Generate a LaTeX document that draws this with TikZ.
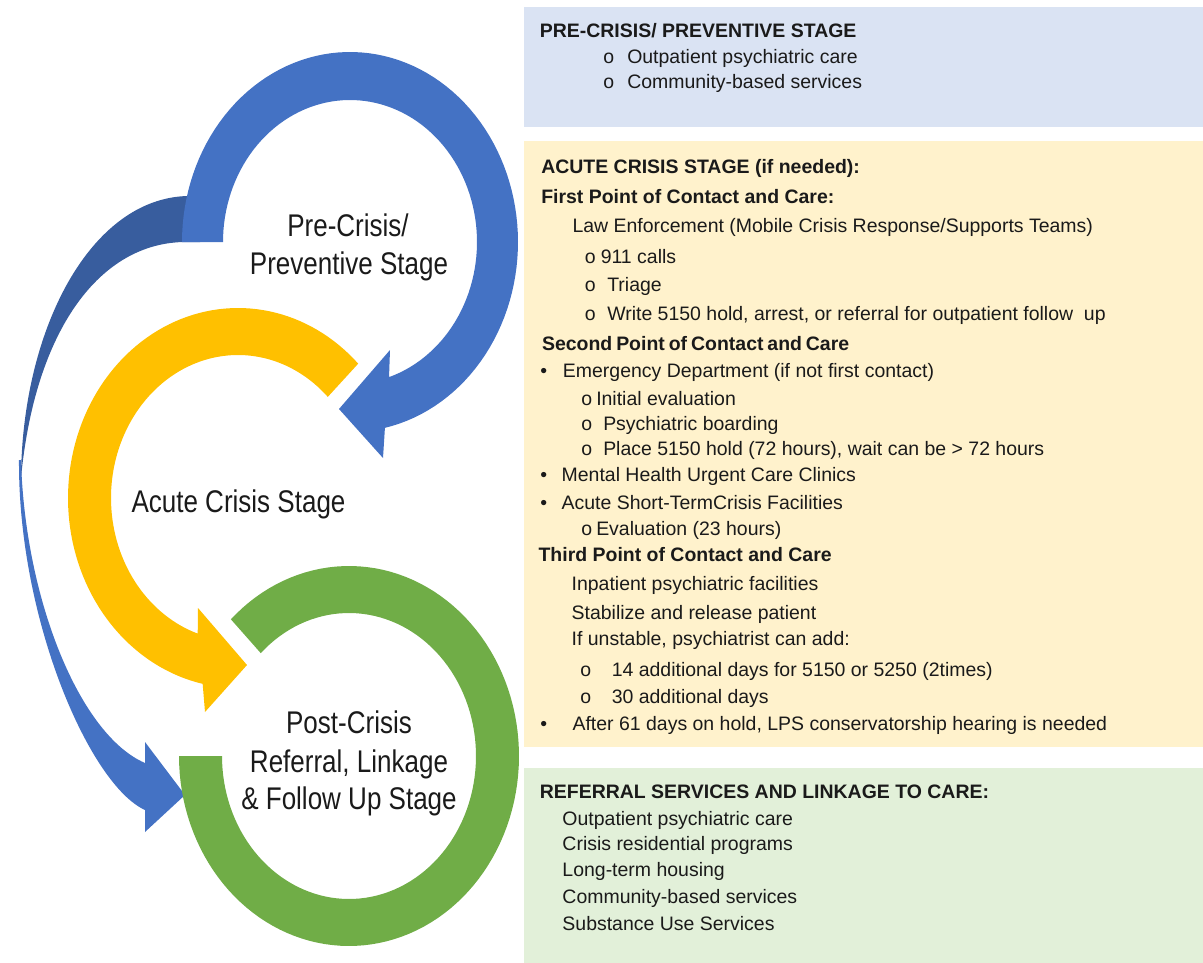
\documentclass[tikz,border=0pt]{standalone}
\usepackage{fontspec}
\setmainfont{Liberation Sans}
\newfontfamily\narrowfam[FakeStretch=0.83]{Liberation Sans}
\newlength\pxu
\setlength\pxu{0.75pt}
\newcommand\rtf{\fontsize{14.6pt}{17pt}\selectfont}
\newcommand\lblf{\narrowfam\fontsize{23.5pt}{28pt}\selectfont}
\newcommand\mk[2]{\makebox[#1\pxu][l]{#2}}
\definecolor{boxblue}{HTML}{DAE3F3}
\definecolor{boxyellow}{HTML}{FFF2CC}
\definecolor{boxgreen}{HTML}{E2F0D9}
\definecolor{ringblue}{HTML}{4472C4}
\definecolor{darkblue}{HTML}{385D9E}
\definecolor{ringyellow}{HTML}{FFC000}
\definecolor{ringgreen}{HTML}{70AD47}
\definecolor{ink}{HTML}{1A1A1A}
\begin{document}
\begin{tikzpicture}[x=0.75pt,y=-0.75pt,
  rtxt/.style={anchor=base west,inner sep=0pt,font=\rtf,text=ink},
  lbl/.style={anchor=base,inner sep=0pt,font=\lblf,text=ink}]
\useasboundingbox (0,0) rectangle (1203,963);
% info boxes
\fill[boxblue] (524,7) rectangle (1203,127);
\fill[boxyellow] (524,141) rectangle (1203,747);
\fill[boxgreen] (524,768) rectangle (1203,963);
% dark back part of the long arrow
\fill[darkblue] (188,196) .. controls (90,198) and (22,330) .. (21,478)
  .. controls (35,330) and (100,242) .. (186,242) -- (200,242) -- (200,196) -- cycle;
% front part of the long arrow
\fill[ringblue] (19,460) .. controls (18,620) and (90,785) .. (145,810)
  -- (145,832) -- (185,795) -- (145,742) -- (145,763)
  .. controls (80,735) and (25,600) .. (21,460) -- cycle;
% blue ring arrow
\fill[ringblue] plot[domain=180:438,samples=100] ({350+168*cos(\x)},{242+190*sin(\x)})
  -- (383,458) -- (339,409) -- (390,350)
  -- plot[domain=432.1:180,samples=100] ({350+127*cos(\x)},{242+142*sin(\x)}) -- cycle;
% yellow ring arrow
\fill[ringyellow] plot[domain=-45:-258,samples=100] ({238+170*cos(\x)},{498+190*sin(\x)})
  -- (205,712) -- (247,665) -- (198,608)
  -- plot[domain=-251.5:-45,samples=100] ({238+127*cos(\x)},{498+143*sin(\x)}) -- cycle;
% green ring
\fill[ringgreen] plot[domain=180:-134,samples=120] ({349+170*cos(\x)},{756+190*sin(\x)})
  -- plot[domain=-134:180,samples=120] ({349+127*cos(\x)},{756+143*sin(\x)}) -- cycle;
% stage labels
\node[lbl] (pre1) at (348,236) {Pre-Crisis/};
\node[lbl] (pre2) at (349,274) {Preventive Stage};
\node[lbl] (acute) at (238.5,512) {Acute Crisis Stage};
\node[lbl] (post1) at (349,733.5) {Post-Crisis};
\node[lbl] (post2) at (349,772) {Referral, Linkage};
\node[lbl] (post3) at (349,809) {\& Follow Up Stage};
% box 1
\node[rtxt] (a1) at (539.6,38) {\bfseries PRE-CRISIS/ PREVENTIVE STAGE};
\node[rtxt] (a2) at (603,63.5) {\mk{24}{o}Outpatient psychiatric care};
\node[rtxt] (a3) at (603,89) {\mk{24}{o}Community-based services};
% box 2
\node[rtxt] (b1) at (541,173.3) {\bfseries ACUTE CRISIS STAGE (if needed):};
\node[rtxt] (b2) at (541,203.3) {\bfseries First Point of Contact and Care:};
\node[rtxt] (b3) at (572.3,232.7) {Law Enforcement (Mobile Crisis Response/Supports Teams)};
\node[rtxt] (b4) at (584.5,263.3) {\mk{16}{o}911 calls};
\node[rtxt] (b5) at (584.5,291.7) {\mk{22.5}{o}Triage};
\node[rtxt] (b6) at (584.5,320) {\mk{22.5}{o}Write 5150 hold, arrest, or referral for outpatient follow\ \ up};
\node[rtxt] (b7) at (541.8,350) {\bfseries\spaceskip=0.2em\relax Second Point of Contact and Care};
\node[rtxt] (b8) at (540,377.3) {\mk{22.7}{•}Emergency Department (if not first contact)};
\node[rtxt] (b9) at (581,405) {\mk{15}{o}Initial evaluation};
\node[rtxt] (b10) at (581,430) {\mk{22}{o}Psychiatric boarding};
\node[rtxt] (b11) at (581,455) {\mk{22}{o}Place 5150 hold (72 hours), wait can be > 72 hours};
\node[rtxt] (b12) at (540,481.7) {\mk{21.4}{•}Mental Health Urgent Care Clinics};
\node[rtxt] (b13) at (540,509.3) {\mk{21.4}{•}Acute Short-TermCrisis Facilities};
\node[rtxt] (b14) at (581,535) {\mk{15}{o}Evaluation (23 hours)};
\node[rtxt] (b15) at (538.3,561.7) {\bfseries Third Point of Contact and Care};
\node[rtxt] (b16) at (571.4,590) {Inpatient psychiatric facilities};
\node[rtxt] (b17) at (571.4,619.3) {Stabilize and release patient};
\node[rtxt] (b18) at (571.4,645) {If unstable, psychiatrist can add:};
\node[rtxt] (b19) at (580,676.7) {\mk{31.5}{o}14 additional days for 5150 or 5250 (2times)};
\node[rtxt] (b20) at (580,703.3) {\mk{31.5}{o}30 additional days};
\node[rtxt] (b21) at (540,730) {\mk{32.3}{•}After 61 days on hold, LPS conservatorship hearing is needed};
% box 3
\node[rtxt] (c1) at (539.6,798.3) {\bfseries REFERRAL SERVICES AND LINKAGE TO CARE:};
\node[rtxt] (c2) at (562.2,825) {Outpatient psychiatric care};
\node[rtxt] (c3) at (562.2,850) {Crisis residential programs};
\node[rtxt] (c4) at (562.2,876.7) {Long-term housing};
\node[rtxt] (c5) at (562.2,903.3) {Community-based services};
\node[rtxt] (c6) at (562.2,930) {Substance Use Services};
\end{tikzpicture}
\end{document}
